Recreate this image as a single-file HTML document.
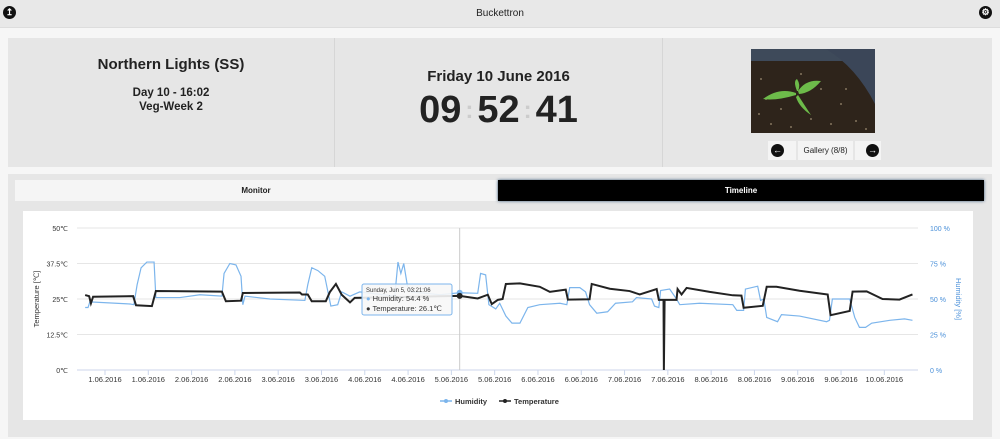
<!DOCTYPE html>
<html><head><meta charset="utf-8">
<style>
body{margin:0;width:1000px;height:439px;background:#f6f6f6;font-family:"Liberation Sans",sans-serif;position:relative;overflow:hidden;color:#222}
.abs{position:absolute}
.circ{position:absolute;width:13px;height:13px;border-radius:50%;background:#111;color:#fff;font-size:9px;line-height:13px;text-align:center;font-weight:bold}
.col{color:#ccc;font-size:24px;margin:0 4px;vertical-align:4px}
</style></head><body>
<div class="abs" style="left:0;top:0;width:1000px;height:27px;background:#e8e8e8;border-bottom:1px solid #ddd"></div>
<div class="circ" style="left:3px;top:6px">↥</div>
<div class="abs" style="left:0;top:8px;width:1000px;text-align:center;font-size:10px">Buckettron</div>
<div class="circ" style="left:979px;top:6px">⚙</div>

<div class="abs" style="left:8px;top:38px;width:984px;height:129px;background:#e6e6e6"></div>
<div class="abs" style="left:334px;top:38px;width:1px;height:129px;background:#d6d6d6"></div>
<div class="abs" style="left:662px;top:38px;width:1px;height:129px;background:#d6d6d6"></div>
<div class="abs" style="left:8px;top:56px;width:326px;text-align:center;font-size:15px;font-weight:bold">Northern Lights (SS)</div>
<div class="abs" style="left:8px;top:86px;width:326px;text-align:center;font-size:11.5px;font-weight:bold;line-height:14px">Day 10 - 16:02<br>Veg-Week 2</div>
<div class="abs" style="left:335px;top:68px;width:327px;text-align:center;font-size:15px;font-weight:bold">Friday 10 June 2016</div>
<div class="abs" style="left:335px;top:89px;width:327px;text-align:center;font-size:38px;font-weight:bold;white-space:nowrap">09<span class="col">:</span>52<span class="col">:</span>41</div>
<svg class="abs" style="left:751px;top:49px" width="124" height="84">
<rect width="124" height="84" fill="#2e241b"/><rect width="124" height="12" fill="#3e4a5a"/><path d="M75 0 H124 V55 Q105 18 75 0Z" fill="#3b4658"/>
<g fill="#9a8a70" opacity=".8"><circle cx="10" cy="30" r="1"/><circle cx="30" cy="60" r="1"/><circle cx="60" cy="70" r="1"/><circle cx="90" cy="55" r="1"/><circle cx="70" cy="40" r="1"/><circle cx="20" cy="75" r="1"/><circle cx="105" cy="72" r="1"/><circle cx="50" cy="25" r="1"/><circle cx="15" cy="50" r="1"/><circle cx="80" cy="75" r="1"/><circle cx="40" cy="78" r="1"/><circle cx="95" cy="40" r="1"/><circle cx="8" cy="65" r="1"/><circle cx="115" cy="80" r="1"/></g>
<path d="M45 46 Q25 52 12 50 Q28 38 45 44Z M47 42 Q55 30 70 32 Q60 44 48 45Z M47 46 Q56 60 60 66 Q48 58 45 48Z M46 42 Q42 32 46 30 Q50 36 47 42Z" fill="#6dbb4a"/></svg>
<div class="abs" style="left:768px;top:141px;width:28px;height:19px;background:#f4f4f4"></div>
<div class="circ" style="left:771px;top:144px">←</div>
<div class="abs" style="left:798px;top:141px;width:55px;height:19px;background:#f4f4f4;font-size:8px;line-height:19px;text-align:center">Gallery (8/8)</div>
<div class="abs" style="left:855px;top:141px;width:26px;height:19px;background:#f4f4f4"></div>
<div class="circ" style="left:866px;top:144px">→</div>

<div class="abs" style="left:8px;top:174px;width:984px;height:263px;background:#e6e6e6"></div>
<div class="abs" style="left:15px;top:180px;width:482px;height:21px;background:#f5f5f5;font-size:8px;font-weight:bold;line-height:21px;text-align:center">Monitor</div>
<div class="abs" style="left:498px;top:180px;width:486px;height:21px;background:#000;color:#fff;font-size:8px;font-weight:bold;line-height:21px;text-align:center;box-shadow:0 0 3px #3a5a7a">Timeline</div>
<div class="abs" style="left:23px;top:211px;width:950px;height:209px;background:#fff"></div>

<svg id="chart" class="abs" style="left:0;top:0" width="1000" height="439"></svg>
<script>
const tickHours=[0,12,24,36,48,60,72,84,96,108,120,132,144,156,168,180,192,204,216];
const tickLabels=["1.06.2016","1.06.2016","2.06.2016","2.06.2016","3.06.2016","3.06.2016","4.06.2016","4.06.2016","5.06.2016","5.06.2016","6.06.2016","6.06.2016","7.06.2016","7.06.2016","8.06.2016","8.06.2016","9.06.2016","9.06.2016","10.06.2016"];
const tempTicks=[0,12.5,25,37.5,50];
const humTicks=[0,25,50,75,100];
const tempHours=[-5.5,-4.4,-3.9,-3.3,7.8,8.6,13.0,14.1,32.4,33.5,37.7,38.2,54.0,54.6,56.2,57.3,61.2,62.3,64.0,65.6,67.9,69.2,98.3,103.3,106.1,107.2,108.9,110.2,111.1,115.0,120.5,123.3,127.7,128.3,134.3,134.9,139.9,145.4,148.2,152.9,153.5,154.8,154.9,155.1,158.4,158.7,159.8,161.2,167.6,174.0,176.4,177.0,182.3,183.4,186.1,192.5,200.3,201.1,206.4,207.2,211.1,215.5,220.2,223.8];
const tempValues=[26.4,26.0,23.5,25.8,26.0,22.8,22.5,27.8,27.6,24.2,24.4,27.1,27.3,26.6,26.6,24.2,24.2,27.4,30.3,26.5,23.8,25.4,26.1,25.2,26.5,23.2,24.7,25.0,30.3,30.5,29.3,27.5,28.3,24.8,24.9,30.3,28.6,27.8,26.6,28.5,24.7,24.7,0,24.7,24.7,28.5,26.6,28.9,27.5,26.3,26.2,21.9,22.6,29.3,29.3,27.9,26.6,19.3,20.8,27.6,27.7,25.0,24.8,26.6];
const humHours=[-5.5,-4.7,-4.2,6.9,8.0,8.9,10.0,11.6,13.6,14.1,20.8,26.3,32.4,33.0,34.6,36.3,37.7,38.2,38.8,45.7,55.4,56.2,57.3,59.0,60.9,62.6,64.5,65.6,67.9,70.6,80.3,81.2,82.0,82.8,83.9,85.0,92.8,98.3,103.3,104.1,105.5,106.4,108.3,109.4,111.1,112.8,115.0,117.2,120.5,126.1,128.0,128.8,131.6,133.2,134.3,136.3,139.3,141.5,146.2,147.3,151.5,152.3,153.5,154.0,156.5,158.4,159.3,164.8,174.0,175.1,177.0,177.5,180.9,181.7,182.6,183.4,186.4,187.5,192.5,200.0,200.8,201.6,206.4,207.8,209.1,210.8,212.5,217.5,221.6,223.8];
const humValues=[44,44,48,46.5,46,60,72,76,76,51,51,53,52,68,75,74,66,46,52,50,49,60,72,70,66,45,46,55,52,55,52,76,68,75,58,55,53,54.4,54,68,67,46,43,47,38,33,33,44,46,47,46,58,58,55,46,40,41,47,48,51,50,45,44,56,57,50,46,47,46,42,42,57,59,49,50,37,34,39,38,34,35,50,50,37,30,30,33,35,36,35];
const tooltipHour=98.3;

const svg=document.getElementById('chart');
const NS='http://www.w3.org/2000/svg';
const L=77,R=918,T=228,B=370;
const xs=h=>105+h*3.608;
const yT=v=>B-(v/50)*(B-T);
const yH=v=>B-(v/100)*(B-T);
function mk(tag,a,txt){const e=document.createElementNS(NS,tag);for(const k in a)e.setAttribute(k,a[k]);if(txt!=null)e.textContent=txt;svg.appendChild(e);return e;}
tempTicks.forEach((v,i)=>{
  const g=mk('line',{x1:L,x2:R,y1:yT(v),y2:yT(v),stroke:i==0?'#ccd6eb':'#e6e6e6','stroke-width':1});
  
  
  const t=mk('text',{x:68,y:yT(v)+3,'text-anchor':'end','font-size':7,fill:'#333'},v+'℃');
  
  
});
humTicks.forEach(v=>{
  const t=mk('text',{x:930,y:yH(v)+3,'font-size':7,fill:'#4a90d9'},v+' %');
  
  
});
tickHours.forEach((h,i)=>{
  const l=mk('line',{x1:xs(h),x2:xs(h),y1:B,y2:B+5,stroke:'#ccd6eb'});
  
  
  const t=mk('text',{x:xs(h),y:382,'text-anchor':'middle','font-size':7.5,fill:'#333'},tickLabels[i]);
  
  
});
const yl=mk('text',{transform:'translate(39,299) rotate(-90)','text-anchor':'middle','font-size':7.5,fill:'#333'},'Temperature [℃]');


const yr=mk('text',{transform:'translate(956,299) rotate(90)','text-anchor':'middle','font-size':7.5,fill:'#4a90d9'},'Humidity [%]');


const ch=mk('line',{x1:xs(tooltipHour),x2:xs(tooltipHour),y1:T,y2:B,stroke:'#ccc'});


const hp=mk('polyline',{points:humHours.map((h,i)=>xs(h)+','+yH(humValues[i])).join(' '),fill:'none',stroke:'#7cb5ec','stroke-width':1.2});


const tp=mk('polyline',{points:tempHours.map((h,i)=>xs(h)+','+yT(tempValues[i])).join(' '),fill:'none',stroke:'#222','stroke-width':2});


const hi=humHours.indexOf(tooltipHour),ti=tempHours.indexOf(tooltipHour);
const hm=mk('circle',{cx:xs(tooltipHour),cy:yH(humValues[hi]),r:3,fill:'#7cb5ec'});


const tm=mk('circle',{cx:xs(tooltipHour),cy:yT(tempValues[ti]),r:3,fill:'#222'});


const tb=mk('rect',{x:362,y:284,width:90,height:31,fill:'rgba(247,247,247,0.9)',stroke:'#7cb5ec',rx:2});


const t1=mk('text',{x:366,y:292,'font-size':6,fill:'#333'},'Sunday, Jun 5, 03:21:06');


const t2=mk('text',{x:366,y:301,'font-size':7.5,fill:'#333'});


const t2a=document.createElementNS(NS,'tspan');t2a.setAttribute('fill','#7cb5ec');t2a.textContent='● ';t2.appendChild(t2a);
t2.appendChild(document.createTextNode('Humidity: '+humValues[hi]+' %'));
const t3=mk('text',{x:366,y:311,'font-size':7.5,fill:'#333'},'● Temperature: '+tempValues[ti]+'℃');


const lg1=mk('line',{x1:440,x2:452,y1:401,y2:401,stroke:'#7cb5ec','stroke-width':1.5});


mk('circle',{cx:446,cy:401,r:2,fill:'#7cb5ec'});
const lt1=mk('text',{x:455,y:404,'font-size':7.5,'font-weight':'bold',fill:'#333'},'Humidity');


const lg2=mk('line',{x1:499,x2:511,y1:401,y2:401,stroke:'#222','stroke-width':1.5});


mk('circle',{cx:505,cy:401,r:2,fill:'#222'});
const lt2=mk('text',{x:514,y:404,'font-size':7.5,'font-weight':'bold',fill:'#333'},'Temperature');


</script>
</body></html>
